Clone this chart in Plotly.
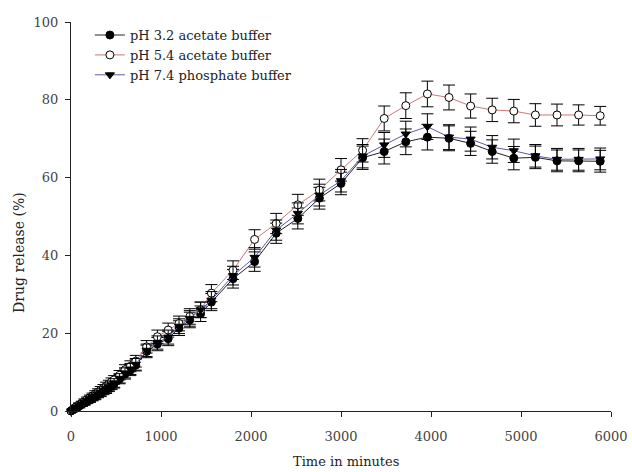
import plotly.graph_objects as go

time_min = [0, 15, 30, 45, 60, 90, 120, 150, 180, 210, 240, 270, 300, 330, 360, 390, 420, 450, 480,
            540, 600, 660, 720, 840, 960, 1080, 1200, 1320, 1440, 1560, 1800, 2040, 2280, 2520, 2760,
            3000, 3240, 3480, 3720, 3960, 4200, 4440, 4680, 4920, 5160, 5400, 5640, 5880]

ph32 = [0, 0.2, 0.4, 0.6, 0.9, 1.3, 1.7, 2.1, 2.5, 2.9, 3.3, 3.7, 4.2, 4.6, 5.1, 5.5, 6.0, 6.5, 7.0,
        8.2, 9.5, 10.5, 11.8, 15.3, 17.2, 18.6, 21.3, 23.4, 25.0, 28.0, 34.0, 38.4, 45.7, 49.5, 54.7,
        58.5, 65.1, 66.7, 69.2, 70.4, 70.1, 68.8, 66.7, 65.0, 65.2, 64.3, 64.3, 64.2]
ph54 = [0, 0.3, 0.5, 0.8, 1.1, 1.6, 2.0, 2.5, 3.0, 3.4, 3.9, 4.4, 4.9, 5.4, 5.9, 6.4, 6.9, 7.5, 8.0,
        9.2, 10.6, 11.5, 12.8, 16.5, 19.1, 20.8, 22.5, 24.3, 26.0, 30.3, 36.2, 44.1, 48.2, 53.0, 56.8,
        62.0, 67.0, 75.2, 78.5, 81.5, 80.6, 78.4, 77.4, 77.1, 76.1, 76.1, 76.1, 75.9]
ph74 = [0, 0.2, 0.4, 0.7, 1.0, 1.4, 1.8, 2.2, 2.6, 3.0, 3.5, 3.9, 4.4, 4.8, 5.3, 5.7, 6.2, 6.7, 7.2,
        8.4, 9.8, 10.8, 12.0, 15.6, 17.6, 19.0, 21.8, 23.8, 26.0, 28.5, 34.8, 39.5, 46.5, 50.8, 55.5,
        59.2, 65.5, 68.4, 71.2, 73.1, 70.4, 69.9, 67.8, 66.9, 65.6, 64.7, 64.7, 64.8]

err32 = [0.2, 0.3, 0.3, 0.4, 0.4, 0.5, 0.5, 0.6, 0.6, 0.7, 0.7, 0.8, 0.8, 0.9, 0.9, 1.0, 1.0, 1.0, 1.1,
         1.2, 1.3, 1.4, 1.5, 1.6, 1.7, 1.8, 1.9, 2.0, 2.0, 2.2, 2.4, 2.5, 2.6, 2.7, 2.8,
         2.9, 3.0, 3.2, 3.3, 3.3, 3.2, 3.1, 3.0, 3.0, 2.9, 2.8, 2.8, 2.8]
err54 = [0.2, 0.3, 0.3, 0.4, 0.4, 0.5, 0.5, 0.6, 0.6, 0.7, 0.7, 0.8, 0.8, 0.9, 0.9, 1.0, 1.0, 1.0, 1.1,
         1.2, 1.3, 1.4, 1.5, 1.6, 1.7, 1.8, 1.9, 2.0, 2.0, 2.2, 2.4, 2.5, 2.6, 2.7, 2.8,
         2.9, 3.0, 3.2, 3.3, 3.3, 3.2, 3.1, 3.0, 3.0, 2.9, 2.8, 2.6, 2.4]
err74 = [0.2, 0.3, 0.3, 0.4, 0.4, 0.5, 0.5, 0.6, 0.6, 0.7, 0.7, 0.8, 0.8, 0.9, 0.9, 1.0, 1.0, 1.0, 1.1,
         1.2, 1.3, 1.4, 1.5, 1.6, 1.7, 1.8, 1.9, 2.0, 2.0, 2.2, 2.4, 2.5, 2.6, 2.7, 2.8,
         2.9, 3.0, 3.2, 3.3, 3.3, 3.2, 3.1, 3.0, 3.0, 2.9, 2.8, 2.8, 2.8]

x_ticks = [0, 1000, 2000, 3000, 4000, 5000, 6000]
y_ticks = [0, 20, 40, 60, 80, 100]
names = ["pH 3.2 acetate buffer", "pH 5.4 acetate buffer", "pH 7.4 phosphate buffer"]
x_title = "Time in minutes"
y_title = "Drug release (%)"
FONT = "DejaVu Serif, Liberation Serif, serif"

fig = go.Figure()
styles = [
    (ph32, err32, "#222222", "circle", "black"),
    (ph54, err54, "#cc7777", "circle", "white"),
    (ph74, err74, "#5a5aa8", "triangle-down", "black"),
]
for name, (vals, errs, lcol, sym, fill) in zip(names, styles):
    fig.add_trace(go.Scatter(
        x=time_min, y=vals, name=name, mode="lines+markers",
        line=dict(color=lcol, width=1),
        marker=dict(symbol=sym, size=8, color=fill, line=dict(color="black", width=1)),
        error_y=dict(type="data", array=errs, visible=True, color="black", thickness=1, width=6),
        cliponaxis=False,
    ))

fig.update_layout(
    width=632, height=472,
    margin=dict(l=71, r=21, t=22, b=61),
    paper_bgcolor="white", plot_bgcolor="white",
    font=dict(family=FONT, size=13, color="#333333"),
    showlegend=True,
    legend=dict(x=0.035, y=1.005, xanchor="left", yanchor="top", bgcolor="rgba(0,0,0,0)",
                font=dict(family=FONT, size=13, color="#222222"), tracegroupgap=0, itemwidth=30),
    xaxis=dict(range=[0, 6000], tickvals=x_ticks, automargin=False,
               showline=True, linecolor="#222222", linewidth=1, ticks="outside", ticklen=5,
               tickcolor="#222222", showgrid=False, zeroline=False, ticklabelstandoff=8,
               tickfont=dict(family=FONT, size=13, color="#444444")),
    yaxis=dict(range=[0, 100], tickvals=y_ticks, automargin=False,
               showline=True, linecolor="#222222", linewidth=1, ticks="outside", ticklen=5,
               tickcolor="#222222", showgrid=False, zeroline=False, ticklabelstandoff=4,
               tickfont=dict(family=FONT, size=13, color="#444444")),
    annotations=[
        dict(text=x_title, xref="paper", yref="paper", x=0.509, y=-0.131, xanchor="center",
             yanchor="middle", showarrow=False, font=dict(family=FONT, size=13, color="#222222")),
        dict(text=y_title, xref="paper", yref="paper", x=-0.0963, y=0.409, xanchor="center",
             yanchor="middle", textangle=-90, showarrow=False,
             font=dict(family=FONT, size=14, color="#222222")),
    ],
)

fig.write_html("out.html")
